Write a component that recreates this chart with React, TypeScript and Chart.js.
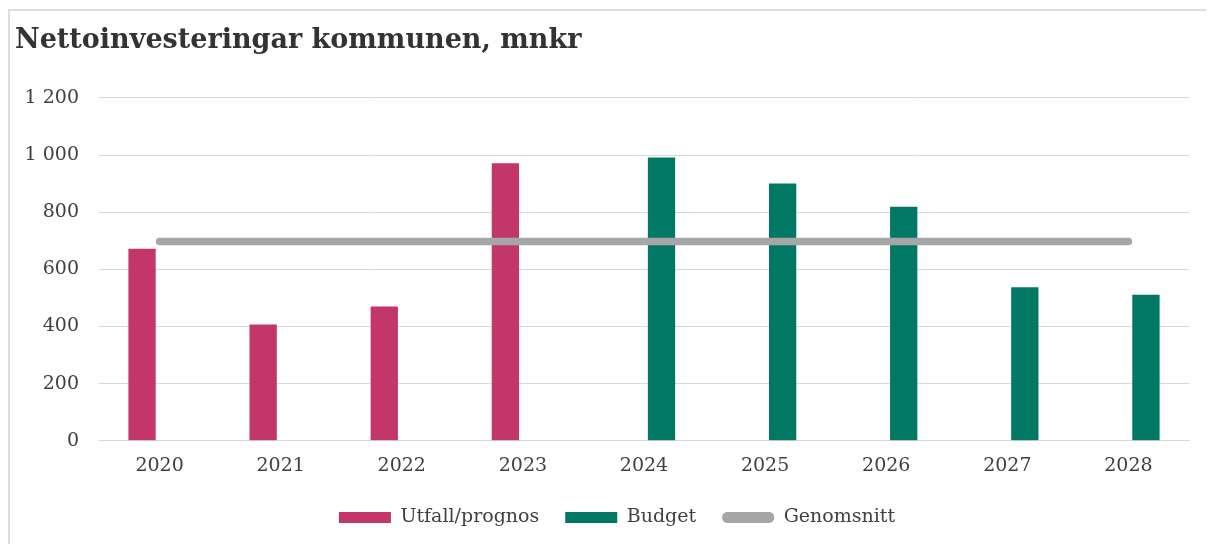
import React, { useEffect, useRef } from "react";
import { Chart, registerables } from "chart.js";

Chart.register(...registerables);

const categories = ["2020", "2021", "2022", "2023", "2024", "2025", "2026", "2027", "2028"];
const utfallValues = [672, 407, 470, 971, null, null, null, null, null];
const budgetValues = [null, null, null, null, 991, 900, 819, 537, 511];
const genomsnittValues = [697, 697, 697, 697, 697, 697, 697, 697, 697];
const yTicks = [0, 200, 400, 600, 800, 1000, 1200];

const PINK = "#C3366A";
const GREEN = "#007864";
const GRAY = "#A6A6A6";
const TEXT = "#404040";
const FONT = "'DejaVu Serif', serif";

function fmt(v: number): string {
  const s = String(Math.round(v));
  return s.replace(/\B(?=(\d{3})+(?!\d))/g, " ");
}

const legendShift = {
  id: "legendShift",
  afterLayout(chart: any) {
    if (chart.legend) {
      chart.legend.left += 15;
      chart.legend.right += 15;
    }
  },
};

export default function App() {
  const ref = useRef<HTMLCanvasElement | null>(null);

  useEffect(() => {
    document.body.style.overflow = "hidden";
    const canvas = ref.current;
    if (!canvas) return;
    const chart = new Chart(canvas, {
      type: "bar",
      plugins: [legendShift],
      data: {
        labels: categories,
        datasets: [
          {
            label: "Utfall/prognos",
            data: utfallValues as any,
            backgroundColor: PINK,
            borderWidth: 0,
            order: 1,
            categoryPercentage: 0.578,
            barPercentage: 0.78,
          },
          {
            label: "Budget",
            data: budgetValues as any,
            backgroundColor: GREEN,
            borderWidth: 0,
            order: 1,
            categoryPercentage: 0.578,
            barPercentage: 0.78,
          },
          {
            type: "line",
            label: "Genomsnitt",
            data: genomsnittValues,
            borderColor: GRAY,
            backgroundColor: GRAY,
            borderWidth: 7.5,
            borderCapStyle: "round",
            pointRadius: 0,
            pointHoverRadius: 0,
            fill: false,
            order: 0,
          } as any,
        ],
      },
      options: {
        animation: false,
        responsive: false,
        devicePixelRatio: 1,
        layout: { padding: { left: 5, right: 25, top: 0, bottom: 7 } },
        plugins: {
          tooltip: { enabled: false },
          title: {
            display: true,
            text: "Nettoinvesteringar kommunen, mnkr",
            align: "start",
            color: "#333333",
            font: { family: FONT, size: 27, weight: "bold" },
            padding: { top: 14, bottom: 40.5 },
          },
          legend: {
            position: "bottom",
            sort: (a: any, b: any) => a.datasetIndex - b.datasetIndex,
            labels: {
              boxWidth: 52,
              boxHeight: 11,
              padding: 26,
              color: TEXT,
              font: { family: FONT, size: 19 },
              useBorderRadius: true,
              generateLabels: (c: any) =>
                c.data.datasets.map((ds: any, i: number) => ({
                  text: ds.label,
                  fillStyle: i === 2 ? GRAY : ds.backgroundColor,
                  strokeStyle: i === 2 ? GRAY : ds.backgroundColor,
                  lineWidth: 0,
                  borderRadius: i === 2 ? 5 : 0,
                  fontColor: TEXT,
                  datasetIndex: i,
                  hidden: false,
                })),
            },
          },
        },
        scales: {
          x: {
            grid: { display: false, drawTicks: false },
            border: { display: true, color: "#D9D9D9", width: 1 },
            ticks: {
              color: TEXT,
              font: { family: FONT, size: 19 },
              padding: 14,
              maxRotation: 0,
            },
            afterFit: (scale: any) => {
              scale.height -= 9.5;
            },
          },
          y: {
            min: 0,
            max: 1200,
            afterBuildTicks: (scale: any) => {
              scale.ticks = yTicks.map((v) => ({ value: v }));
            },
            afterFit: (scale: any) => {
              scale.width = 84;
            },
            grid: { color: "#D9D9D9", lineWidth: 1, drawTicks: false },
            border: { display: false },
            ticks: {
              color: TEXT,
              font: { family: FONT, size: 19 },
              padding: 20,
              callback: (v: any) => fmt(Number(v)),
            },
          },
        },
      },
    });
    return () => chart.destroy();
  }, []);

  return (
    <div
      style={{
        marginTop: 1,
        width: 1206,
        height: 535,
        borderTop: "2px solid #DDDDDD",
        borderLeft: "2px solid #DDDDDD",
        boxSizing: "border-box",
        background: "#FFFFFF",
      }}
    >
      <canvas ref={ref} width={1204} height={533} style={{ display: "block" }} />
    </div>
  );
}
